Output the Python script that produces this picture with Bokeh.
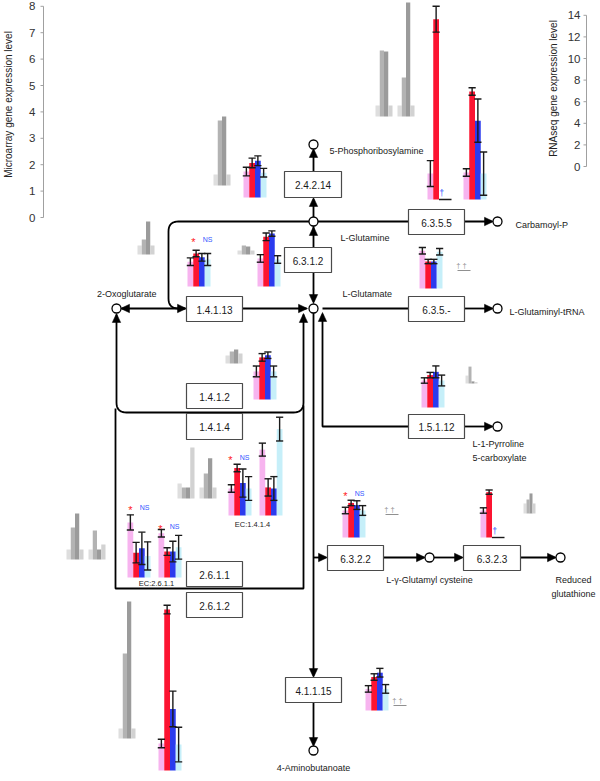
import numpy as np
from bokeh.plotting import figure
from bokeh.models import Range1d
from bokeh.embed import file_html
from bokeh.resources import INLINE
from bokeh.core.properties import value

# ====================== DATA ======================
# Axis tick labels
MA_TICKS = [0, 1, 2, 3, 4, 5, 6, 7, 8]
RNA_TICKS = [0, 2, 4, 6, 8, 10, 12, 14]

# Microarray gene expression (grey bars, four probes per gene)
MA_2_4_2_14 = [0.42, 2.46, 2.61, 0.42]
MA_6_3_5_5_A = [0.42, 2.50, 2.46, 0.42]
MA_6_3_5_5_B = [0.42, 1.48, 4.32, 0.42]
MA_1_4_1_13 = [0.34, 0.57, 1.25, 0.34]
MA_6_3_1_2 = [0.15, 0.34, 0.30, 0.15]
MA_1_4_1_2 = [0.30, 0.45, 0.53, 0.38]
MA_1_4_1_4_A = [0.57, 0.42, 0.42, 1.93]
MA_1_4_1_4_B = [0.42, 0.95, 1.52, 0.42]
MA_2_6_1_1_A = [0.38, 1.21, 1.74, 0.38]
MA_2_6_1_1_B = [0.38, 1.10, 0.38, 0.57]
MA_2_6_1_2 = [0.38, 3.22, 5.19, 0.38]
MA_1_5_1_12 = [0.30, 0.64, 0.08, 0.05]
MA_6_3_2_3 = [0.38, 0.53, 0.76, 0.38]

# RNAseq gene expression (four samples) and error
RNA_2_4_2_14 = [2.4, 3.2, 3.4, 2.3]
ERR_2_4_2_14 = [0.40, 0.45, 0.45, 0.40]
RNA_6_3_5_5_A = [2.4, 16.7, 0.0, 0.0]
ERR_6_3_5_5_A = [1.2, 1.2, 0.0, 0.0]
RNA_6_3_5_5_B = [2.5, 10.0, 7.3, 2.4]
ERR_6_3_5_5_B = [0.35, 0.35, 2.0, 2.0]
RNA_1_4_1_13 = [2.3, 3.05, 2.7, 2.5]
ERR_1_4_1_13 = [0.35, 0.30, 0.35, 0.55]
RNA_6_3_1_2 = [2.6, 4.6, 4.9, 2.5]
ERR_6_3_1_2 = [0.35, 0.35, 0.25, 0.35]
RNA_6_3_5_X = [3.5, 2.5, 2.5, 3.4]
ERR_6_3_5_X = [0.30, 0.20, 0.20, 0.30]
RNA_1_4_1_2 = [2.6, 3.9, 4.1, 2.6]
ERR_1_4_1_2 = [0.50, 0.35, 0.30, 0.50]
RNA_1_4_1_4_A = [2.5, 4.4, 3.0, 2.5]
ERR_1_4_1_4_A = [0.35, 0.35, 1.3, 1.1]
RNA_1_4_1_4_B = [6.1, 2.6, 2.5, 8.0]
ERR_1_4_1_4_B = [0.60, 0.80, 1.1, 1.1]
RNA_2_6_1_1_A = [5.1, 2.3, 2.7, 2.0]
ERR_2_6_1_1_A = [0.70, 0.95, 1.5, 1.3]
RNA_2_6_1_1_B = [4.1, 2.4, 2.4, 2.8]
ERR_2_6_1_1_B = [0.35, 0.35, 0.95, 1.1]
RNA_2_6_1_2 = [2.5, 14.9, 5.7, 2.4]
ERR_2_6_1_2 = [0.40, 0.40, 1.65, 1.6]
RNA_1_5_1_12 = [2.5, 3.0, 3.3, 2.5]
ERR_1_5_1_12 = [0.25, 0.25, 0.55, 0.50]
RNA_6_3_2_2 = [2.5, 3.2, 3.0, 2.5]
ERR_6_3_2_2 = [0.30, 0.25, 0.40, 0.45]
RNA_6_3_2_3 = [2.5, 4.2, 0.0, 0.0]
ERR_6_3_2_3 = [0.25, 0.20, 0.0, 0.0]
RNA_4_1_1_15 = [2.0, 3.1, 3.5, 2.0]
ERR_4_1_1_15 = [0.30, 0.30, 0.40, 0.40]

# ====================== STYLE / LAYOUT ======================
FONT = value("Liberation Sans")
Y_TOP, Y_BOTTOM = 0, 781
MA_PX = 26.4      # pixels per microarray unit
RNA_PX = 10.8     # pixels per RNAseq unit
RNA_COLORS = ["#f7b4ef", "#fc1431", "#2b3bee", "#c6eff9"]
MA_COLORS = ["#dedede", "#b3b3b3", "#9b9b9b", "#d2d2d2"]

p = figure(width=600, height=781, x_range=Range1d(0, 600),
           y_range=Range1d(Y_BOTTOM, Y_TOP), x_axis_type=None, y_axis_type=None,
           output_backend="svg", toolbar_location=None, min_border=0,
           outline_line_color=None, background_fill_color="white")

ranges = {}


def yr(base, scale):
    name = "r_%s_%s" % (base, scale)
    if name not in ranges:
        ranges[name] = Range1d(start=(base - Y_BOTTOM) / scale, end=(base - Y_TOP) / scale)
    return name


def ma_group(vals, x0, base, bw=4.25):
    rn = yr(base, MA_PX)
    xs = [x0 + bw * (i + 0.5) for i in range(len(vals))]
    p.vbar(x=xs, width=bw, top=vals, bottom=0, fill_color=MA_COLORS,
           line_color=None, y_range_name=rn)


def rna_group(vals, errs, x0, base, bw=5.75):
    rn = yr(base, RNA_PX)
    xs = [x0 + bw * (i + 0.5) for i in range(4)]
    keep = [i for i in range(4) if vals[i] > 0]
    p.vbar(x=[xs[i] for i in keep], width=bw, top=[vals[i] for i in keep], bottom=0,
           fill_color=[RNA_COLORS[i] for i in keep], line_color=None, y_range_name=rn)
    ek = [i for i in keep if errs[i] > 0]
    ex = [xs[i] for i in ek]
    lo = [vals[i] - errs[i] for i in ek]
    hi = [vals[i] + errs[i] for i in ek]
    p.segment(x0=ex, y0=lo, x1=ex, y1=hi, line_color="#1a1a1a", line_width=1.4, y_range_name=rn)
    for ys in (lo, hi):
        p.segment(x0=[x - 3.6 for x in ex], y0=ys, x1=[x + 3.6 for x in ex], y1=ys,
                  line_color="#1a1a1a", line_width=1.4, y_range_name=rn)
    zero = [i for i in range(4) if vals[i] == 0]
    if zero:
        p.segment(x0=[xs[zero[0]] - bw / 2], y0=[0], x1=[xs[zero[-1]] + bw / 2 + 1], y1=[0],
                  line_color="#1a1a1a", line_width=1.4, y_range_name=rn)
        p.text(x=[xs[zero[0]]], y=[0.15], text=["†"], text_color="#3355ff",
               text_font=FONT, text_font_size="9px", text_align="center",
               text_baseline="bottom", y_range_name=rn)


def star_ns(xs, y):
    p.text(x=[xs], y=[y + 2], text=["*"], text_color="#ff1a1a", text_font=FONT,
           text_font_size="11px", text_align="center", text_baseline="middle")
    p.text(x=[xs + 14], y=[y], text=["NS"], text_color="#3355ff", text_font=FONT,
           text_font_size="7px", text_align="center", text_baseline="middle")


def no_array(x, y):
    p.text(x=[x + 6], y=[y], text=["†   †"], text_color="#909090", text_font=FONT,
           text_font_size="7.5px", text_align="center", text_baseline="middle")
    p.segment(x0=[x], y0=[y + 5], x1=[x + 13], y1=[y + 5], line_color="#909090", line_width=1)


# ---------------- axes ----------------
ma_r = yr(217, MA_PX)
p.segment(x0=[43], y0=[0], x1=[43], y1=[MA_TICKS[-1]], line_color="#a0a0a0", line_width=1, y_range_name=ma_r)
p.segment(x0=[40] * len(MA_TICKS), y0=MA_TICKS, x1=[43] * len(MA_TICKS), y1=MA_TICKS,
          line_color="#a0a0a0", line_width=1, y_range_name=ma_r)
p.text(x=[35] * len(MA_TICKS), y=MA_TICKS, text=[str(t) for t in MA_TICKS], text_font=FONT,
       text_font_size="11.5px", text_color="#333333", text_align="right",
       text_baseline="middle", y_range_name=ma_r)
p.text(x=[8], y=[104], text=["Microarray gene expression level"], angle=np.pi / 2,
       text_font=FONT, text_font_size="10px", text_color="#222222",
       text_align="center", text_baseline="middle")

rna_r = yr(166, RNA_PX)
p.segment(x0=[586], y0=[0], x1=[586], y1=[RNA_TICKS[-1]], line_color="#a0a0a0", line_width=1, y_range_name=rna_r)
p.segment(x0=[583] * len(RNA_TICKS), y0=RNA_TICKS, x1=[586] * len(RNA_TICKS), y1=RNA_TICKS,
          line_color="#a0a0a0", line_width=1, y_range_name=rna_r)
p.text(x=[580] * len(RNA_TICKS), y=RNA_TICKS, text=[str(t) for t in RNA_TICKS], text_font=FONT,
       text_font_size="11.5px", text_color="#333333", text_align="right",
       text_baseline="middle", y_range_name=rna_r)
p.text(x=[553], y=[88], text=["RNAseq gene expression level"], angle=np.pi / 2,
       text_font=FONT, text_font_size="10px", text_color="#222222",
       text_align="center", text_baseline="middle")

# ---------------- pathway lines ----------------


def rounded(pts, r):
    out = [pts[0]]
    for i in range(1, len(pts) - 1):
        a, c, b = (np.array(pts[i - 1], float), np.array(pts[i], float), np.array(pts[i + 1], float))
        u = (a - c) / np.linalg.norm(a - c)
        v = (b - c) / np.linalg.norm(b - c)
        p1, p2 = c + u * r, c + v * r
        t = np.linspace(0, 1, 10)[:, None]
        curve = (1 - t) ** 2 * p1 + 2 * (1 - t) * t * c + t ** 2 * p2
        out.extend(map(tuple, curve))
    out.append(pts[-1])
    return out


paths = [
    [(313, 221), (313, 199)],
    [(313, 171), (313, 150)],
    rounded([(408, 221), (168, 221), (168, 308), (184, 308)], 10),
    [(313, 225), (313, 247)],
    [(313, 272), (313, 301)],
    [(464, 221), (491, 221)],
    [(121, 308), (185, 308)],
    [(242, 308), (306, 308)],
    rounded([(116, 314), (116, 412), (303, 412), (303, 314)], 10),
    [(115, 408), (115, 588), (303, 588), (303, 405)],
    [(322, 314), (322, 426), (408, 426)],
    [(322, 308), (408, 308)],
    [(464, 308), (491, 308)],
    [(464, 426), (491, 426)],
    [(313, 312), (313, 675)],
    [(313, 702), (313, 744)],
    [(313, 557), (325, 557)],
    [(383, 557), (423, 557)],
    [(433, 557), (461, 557)],
    [(520, 557), (554, 557)],
]
p.multi_line(xs=[[q[0] for q in pth] for pth in paths], ys=[[q[1] for q in pth] for pth in paths],
             line_color="black", line_width=1.8)

heads = [((313, 197), "up"), ((313, 148), "up"), ((186, 308), "right"), ((313, 226), "up"),
         ((313, 303), "down"), ((493, 221), "right"), ((120, 308), "left"), ((307, 308), "right"),
         ((116, 313), "up"), ((303, 313), "up"), ((322, 312), "up"), ((493, 308), "right"),
         ((493, 426), "right"), ((313, 677), "down"), ((313, 746), "down"), ((327, 557), "right"),
         ((425, 557), "right"), ((463, 557), "right"), ((556, 557), "right")]
DIRS = {"up": (0, -1), "down": (0, 1), "left": (-1, 0), "right": (1, 0)}
hx, hy = [], []
for (tx, ty), d in heads:
    dx, dy = DIRS[d]
    bx, by = tx - dx * 9, ty - dy * 9
    px, py = -dy, dx
    hx.append([tx, bx + px * 4.2, bx - px * 4.2])
    hy.append([ty, by + py * 4.2, by - py * 4.2])
p.patches(xs=hx, ys=hy, fill_color="black", line_color="black", line_width=0.5)

circles = [(313, 144), (313, 221), (313, 308), (116, 308), (497, 221), (497, 308),
           (497, 426), (429, 557), (560, 557), (313, 750)]
p.scatter(x=[c[0] for c in circles], y=[c[1] for c in circles], marker="circle", size=9,
          fill_color="white", line_color="black", line_width=1.3)

# enzyme boxes
boxes = [("2.4.2.14", 284, 171, 341, 197), ("6.3.1.2", 284, 247, 331, 272),
         ("6.3.5.5", 408, 209, 464, 234), ("1.4.1.13", 186, 296, 242, 321),
         ("6.3.5.-", 408, 296, 464, 321), ("1.4.1.2", 186, 383, 242, 408),
         ("1.4.1.4", 186, 413, 242, 439), ("1.5.1.12", 408, 414, 464, 438),
         ("6.3.2.2", 327, 545, 383, 570), ("6.3.2.3", 463, 545, 520, 570),
         ("2.6.1.1", 186, 561, 242, 586), ("2.6.1.2", 186, 592, 242, 617),
         ("4.1.1.15", 285, 677, 341, 702)]
p.quad(left=[b[1] for b in boxes], top=[b[2] for b in boxes], right=[b[3] for b in boxes],
       bottom=[b[4] for b in boxes], fill_color="white", line_color="#4a4a4a", line_width=1.2)
p.text(x=[(b[1] + b[3]) / 2 for b in boxes], y=[(b[2] + b[4]) / 2 + 0.5 for b in boxes],
       text=[b[0] for b in boxes], text_font=FONT, text_font_size="10px", text_color="#1a1a1a",
       text_align="center", text_baseline="middle")

# compound labels
labels = [("5-Phosphoribosylamine", 329, 150, "left"), ("L-Glutamine", 340, 237, "left"),
          ("Carbamoyl-P", 515, 224, "left"), ("2-Oxoglutarate", 156, 293, "right"),
          ("L-Glutamate", 342, 293, "left"), ("L-Glutaminyl-tRNA", 509, 311, "left"),
          ("L-1-Pyrroline", 472, 443, "left"), ("5-carboxylate", 472, 457, "left"),
          ("L-γ-Glutamyl cysteine", 429, 579, "center"), ("Reduced", 573, 579, "center"),
          ("glutathione", 573, 593, "center"), ("4-Aminobutanoate", 313, 767, "center")]
for t, x, y, al in labels:
    p.text(x=[x], y=[y], text=[t], text_font=FONT, text_font_size="9px", text_color="#1a1a1a",
           text_align=al, text_baseline="middle")
p.text(x=[252, 156], y=[524, 583], text=["EC:1.4.1.4", "EC:2.6.1.1"], text_font=FONT,
       text_font_size="7.5px", text_color="#222222", text_align="center", text_baseline="middle")

# ---------------- mini bar charts ----------------
ma_group(MA_2_4_2_14, 213, 185)
rna_group(RNA_2_4_2_14, ERR_2_4_2_14, 243, 197)

ma_group(MA_6_3_5_5_A, 375, 116)
ma_group(MA_6_3_5_5_B, 397, 116)
rna_group(RNA_6_3_5_5_A, ERR_6_3_5_5_A, 427, 199)
rna_group(RNA_6_3_5_5_B, ERR_6_3_5_5_B, 463, 199)

ma_group(MA_1_4_1_13, 137, 254)
rna_group(RNA_1_4_1_13, ERR_1_4_1_13, 187, 286)
star_ns(193, 239)

ma_group(MA_6_3_1_2, 237, 254)
rna_group(RNA_6_3_1_2, ERR_6_3_1_2, 257, 286)

rna_group(RNA_6_3_5_X, ERR_6_3_5_X, 419, 288)
no_array(457, 265)

ma_group(MA_1_4_1_2, 225, 363)
rna_group(RNA_1_4_1_2, ERR_1_4_1_2, 253, 399)

ma_group(MA_1_4_1_4_A, 177, 498)
ma_group(MA_1_4_1_4_B, 199, 498)
rna_group(RNA_1_4_1_4_A, ERR_1_4_1_4_A, 228, 515)
rna_group(RNA_1_4_1_4_B, ERR_1_4_1_4_B, 259, 515)
star_ns(230, 457)

ma_group(MA_2_6_1_1_A, 66, 559)
ma_group(MA_2_6_1_1_B, 88, 559)
rna_group(RNA_2_6_1_1_A, ERR_2_6_1_1_A, 127, 577)
rna_group(RNA_2_6_1_1_B, ERR_2_6_1_1_B, 158, 577)
star_ns(130, 507)
star_ns(160, 526)

ma_group(MA_2_6_1_2, 118, 738)
rna_group(RNA_2_6_1_2, ERR_2_6_1_2, 158, 770)

rna_group(RNA_1_5_1_12, ERR_1_5_1_12, 421, 407)
ma_group(MA_1_5_1_12, 465, 383, bw=3)

rna_group(RNA_6_3_2_2, ERR_6_3_2_2, 342, 537)
star_ns(345, 493)
no_array(385, 509)

rna_group(RNA_6_3_2_3, ERR_6_3_2_3, 480, 537)
ma_group(MA_6_3_2_3, 523, 513, bw=3)

rna_group(RNA_4_1_1_15, ERR_4_1_1_15, 365, 710)
no_array(393, 700)

p.extra_y_ranges = ranges

open("out.html", "w").write(file_html(p, INLINE))
